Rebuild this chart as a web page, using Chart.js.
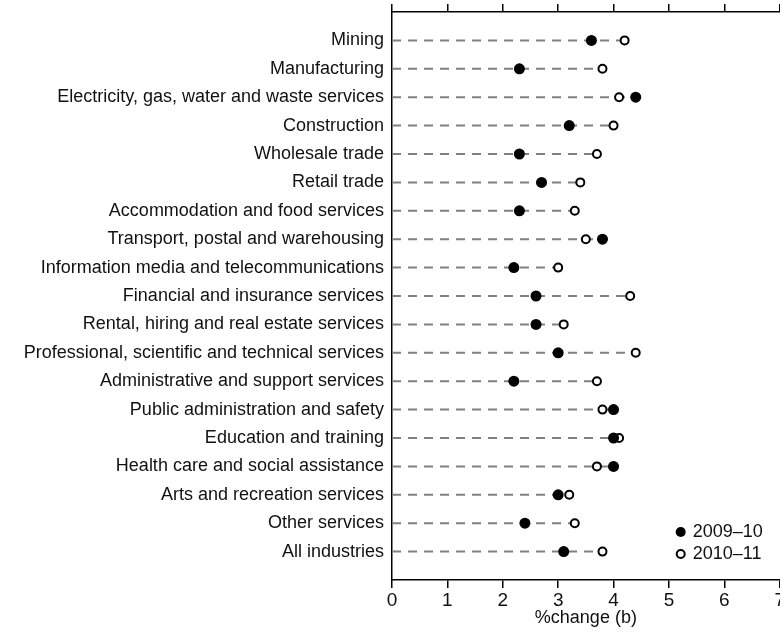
<!DOCTYPE html>
<html>
<head>
<meta charset="utf-8">
<script src="https://cdn.jsdelivr.net/npm/chart.js@4/dist/chart.umd.min.js"></script>
<style>
  html, body { margin: 0; padding: 0; background: #fff; overflow: hidden; }
  #wrap { width: 786px; height: 638px; }
</style>
</head>
<body>
<div id="wrap"><canvas id="chart"></canvas></div>
<script>
// Industries, top to bottom
const categories = [
  'Mining',
  'Manufacturing',
  'Electricity, gas, water and waste services',
  'Construction',
  'Wholesale trade',
  'Retail trade',
  'Accommodation and food services',
  'Transport, postal and warehousing',
  'Information media and telecommunications',
  'Financial and insurance services',
  'Rental, hiring and real estate services',
  'Professional, scientific and technical services',
  'Administrative and support services',
  'Public administration and safety',
  'Education and training',
  'Health care and social assistance',
  'Arts and recreation services',
  'Other services',
  'All industries'
];
const seriesNames = ['2009–10', '2010–11'];
const values0910 = [3.6, 2.3, 4.4, 3.2, 2.3, 2.7, 2.3, 3.8, 2.2, 2.6, 2.6, 3.0, 2.2, 4.0, 4.0, 4.0, 3.0, 2.4, 3.1];
const values1011 = [4.2, 3.8, 4.1, 4.0, 3.7, 3.4, 3.3, 3.5, 3.0, 4.3, 3.1, 4.4, 3.7, 3.8, 4.1, 3.7, 3.2, 3.3, 3.8];
const xTicks = [0, 1, 2, 3, 4, 5, 6, 7];
const xTitle = '%change (b)';

const FONT = '"Liberation Sans", Arial, sans-serif';
const ink = '#111';

// dashed guide line from 0 out to the larger of the two values, one per row
const guideSets = categories.map((_, i) => ({
  label: '_guide' + i,
  data: [{ x: 0, y: i }, { x: Math.max(values0910[i], values1011[i]), y: i }],
  showLine: true,
  borderColor: '#808080',
  borderWidth: 2,
  borderDash: [9, 7],
  pointRadius: 0
}));

// legend drawn inside the plot, bottom right
const insideLegend = {
  id: 'insideLegend',
  afterDatasetsDraw(chart) {
    const { ctx, chartArea } = chart;
    const cx = chartArea.right - 99;
    const y1 = chartArea.bottom - 48;
    const y2 = chartArea.bottom - 26;
    ctx.save();
    ctx.beginPath();
    ctx.arc(cx, y1, 5, 0, Math.PI * 2);
    ctx.fillStyle = '#000';
    ctx.fill();
    ctx.beginPath();
    ctx.arc(cx, y2, 4, 0, Math.PI * 2);
    ctx.fillStyle = '#fff';
    ctx.fill();
    ctx.lineWidth = 2;
    ctx.strokeStyle = '#000';
    ctx.stroke();
    ctx.font = '18px ' + FONT;
    ctx.fillStyle = ink;
    ctx.textBaseline = 'middle';
    ctx.textAlign = 'left';
    ctx.fillText(seriesNames[0], cx + 12, y1);
    ctx.fillText(seriesNames[1], cx + 12, y2);
    ctx.restore();
  }
};

new Chart(document.getElementById('chart').getContext('2d'), {
  type: 'scatter',
  data: {
    datasets: [
      {
        label: seriesNames[0],
        data: values0910.map((v, i) => ({ x: v, y: i })),
        pointRadius: 5.5,
        pointBackgroundColor: '#000',
        pointBorderWidth: 0
      },
      {
        label: seriesNames[1],
        data: values1011.map((v, i) => ({ x: v, y: i })),
        pointRadius: 4,
        pointBackgroundColor: '#fff',
        pointBorderColor: '#000',
        pointBorderWidth: 2
      },
      ...guideSets
    ]
  },
  options: {
    responsive: true,
    maintainAspectRatio: false,
    animation: false,
    events: [],
    layout: { padding: { top: 4, left: 0, right: 0, bottom: 0 } },
    plugins: { legend: { display: false }, tooltip: { enabled: false } },
    scales: {
      x: {
        type: 'linear',
        position: 'bottom',
        min: 0, max: 7,
        afterBuildTicks: s => { s.ticks = xTicks.map(v => ({ value: v })); },
        afterFit: s => { s.height = 58; },
        ticks: { font: { family: FONT, size: 19 }, color: ink, padding: 1, maxRotation: 0 },
        grid: { drawOnChartArea: false, tickLength: 8, color: '#000', lineWidth: 1.5 },
        border: { color: '#000', width: 1.5 },
        title: {
          display: true, text: xTitle, color: ink,
          font: { family: FONT, size: 18 }, padding: { top: 0, bottom: 9 }
        }
      },
      xTop: {
        type: 'linear',
        position: 'top',
        min: 0, max: 7,
        afterBuildTicks: s => { s.ticks = xTicks.map(v => ({ value: v })); },
        afterFit: s => { s.height = 8; },
        ticks: { display: false },
        grid: { drawOnChartArea: false, tickLength: 8, color: '#000', lineWidth: 1.5 },
        border: { color: '#000', width: 1.5 }
      },
      y: {
        type: 'linear',
        reverse: true,
        min: -1, max: categories.length,
        afterBuildTicks: s => { s.ticks = categories.map((_, i) => ({ value: i })); },
        afterFit: s => { s.width = 392; s.paddingTop = 0; s.paddingBottom = 0; },
        ticks: {
          callback: v => categories[v],
          font: { family: FONT, size: 18 },
          color: ink,
          padding: 8
        },
        grid: { drawOnChartArea: false, drawTicks: false },
        border: { color: '#000', width: 1.5 }
      }
    }
  },
  plugins: [insideLegend]
});
</script>
</body>
</html>
